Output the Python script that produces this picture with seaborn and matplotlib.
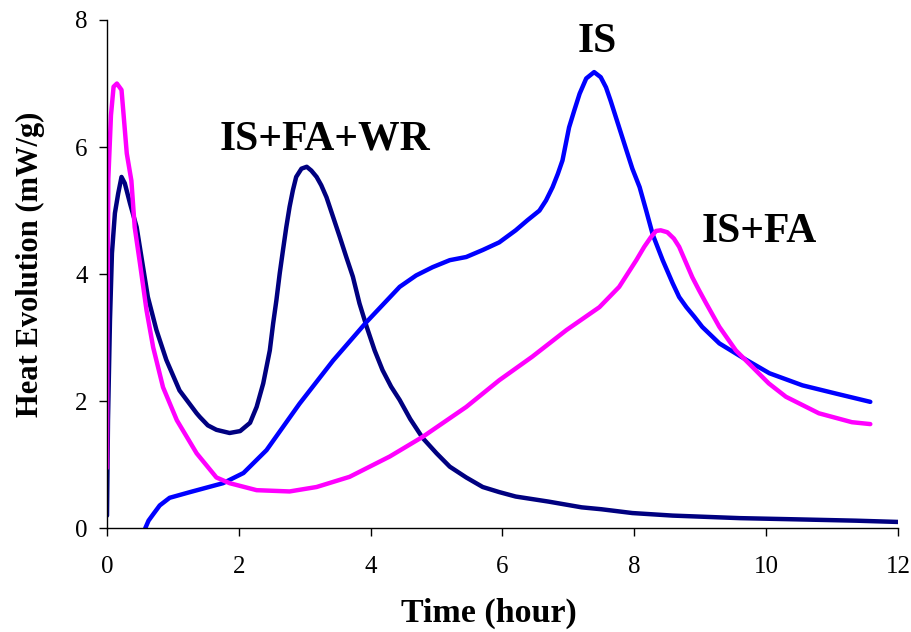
import pandas as pd
import matplotlib
matplotlib.use("Agg")
import matplotlib.pyplot as plt
import seaborn as sns

# Heat evolution curves (time in hours, heat flow in mW/g)
is_fa_wr_t = [0, 0.015, 0.045, 0.075, 0.12, 0.17, 0.22, 0.27, 0.35, 0.45, 0.53, 0.62,
              0.75, 0.9, 1.1, 1.36, 1.41, 1.53, 1.66, 1.86, 2.02, 2.17, 2.27, 2.37,
              2.42, 2.47, 2.52, 2.57, 2.62, 2.67, 2.72, 2.77, 2.82, 2.87, 2.95, 3.03,
              3.1, 3.18, 3.25, 3.33, 3.43, 3.53, 3.63, 3.73, 3.83, 3.94, 4.06, 4.18,
              4.31, 4.44, 4.6, 4.79, 5.0, 5.2, 5.45, 5.7, 5.95, 6.2, 6.7, 7.2, 7.5,
              7.97, 8.58, 9.6, 10.5, 11.36, 12.0]
is_fa_wr_y = [0.2, 1.7, 3.27, 4.33, 4.96, 5.27, 5.53, 5.43, 5.11, 4.74, 4.22, 3.64,
              3.12, 2.65, 2.17, 1.81, 1.75, 1.62, 1.55, 1.5, 1.53, 1.66, 1.91, 2.28,
              2.54, 2.8, 3.22, 3.59, 4.01, 4.38, 4.74, 5.06, 5.32, 5.53, 5.66, 5.69,
              5.63, 5.53, 5.4, 5.21, 4.9, 4.59, 4.27, 3.96, 3.54, 3.17, 2.8, 2.49,
              2.23, 2.02, 1.72, 1.42, 1.18, 0.97, 0.8, 0.65, 0.57, 0.5, 0.42, 0.33,
              0.3, 0.24, 0.2, 0.16, 0.14, 0.12, 0.1]

is_t = [0.58, 0.63, 0.7, 0.8, 0.95, 1.26, 1.76, 2.07, 2.42, 2.92, 3.43, 3.94, 4.44,
        4.69, 4.94, 5.2, 5.45, 5.7, 5.95, 6.2, 6.38, 6.56, 6.66, 6.76, 6.84, 6.91,
        6.96, 7.01, 7.09, 7.17, 7.27, 7.39, 7.49, 7.57, 7.64, 7.72, 7.8, 7.88,
        7.97, 8.08, 8.18, 8.28, 8.43, 8.58, 8.68, 8.79, 8.91, 9.03, 9.29, 9.7,
        10.05, 10.55, 11.06, 11.58]
is_y = [0.0, 0.12, 0.22, 0.36, 0.48, 0.57, 0.71, 0.87, 1.23, 1.96, 2.64, 3.25, 3.8,
        3.98, 4.11, 4.22, 4.27, 4.38, 4.5, 4.69, 4.85, 5.0, 5.16, 5.37, 5.58, 5.79,
        6.05, 6.31, 6.58, 6.84, 7.08, 7.18, 7.1, 6.94, 6.73, 6.47, 6.21, 5.95,
        5.66, 5.37, 5.0, 4.62, 4.22, 3.86, 3.64, 3.48, 3.33, 3.17, 2.91, 2.65,
        2.44, 2.25, 2.12, 1.99]

is_fa_t = [0, 0.005, 0.02, 0.06, 0.1, 0.15, 0.22, 0.25, 0.3, 0.37, 0.42, 0.5, 0.6,
           0.7, 0.85, 1.06, 1.36, 1.66, 1.86, 2.27, 2.77, 3.18, 3.68, 4.29, 4.79,
           5.45, 5.95, 6.45, 6.97, 7.47, 7.77, 8.03, 8.15, 8.25, 8.33, 8.4, 8.5,
           8.6, 8.68, 8.78, 8.88, 8.98, 9.09, 9.29, 9.54, 9.79, 10.04, 10.3, 10.8,
           11.3, 11.58]
is_fa_y = [0.95, 3.0, 5.5, 6.5, 6.95, 7.0, 6.9, 6.53, 5.9, 5.47, 4.74, 4.17, 3.43,
           2.85, 2.22, 1.7, 1.18, 0.8, 0.71, 0.6, 0.58, 0.65, 0.81, 1.13, 1.44,
           1.91, 2.33, 2.7, 3.12, 3.48, 3.8, 4.22, 4.43, 4.58, 4.68, 4.69, 4.66,
           4.56, 4.43, 4.19, 3.95, 3.75, 3.54, 3.17, 2.8, 2.54, 2.28, 2.07, 1.81,
           1.67, 1.64]

series_names = ["IS+FA+WR", "IS", "IS+FA"]
series_colors = ["#000080", "#0000FF", "#FF00FF"]
x_ticks = [0, 2, 4, 6, 8, 10, 12]
y_ticks = [0, 2, 4, 6, 8]

frames = []
for name, t, y in zip(series_names,
                      [is_fa_wr_t, is_t, is_fa_t],
                      [is_fa_wr_y, is_y, is_fa_y]):
    frames.append(pd.DataFrame({"time": t, "heat": y, "mix": name}))
df = pd.concat(frames, ignore_index=True)

sns.set_style("ticks")
plt.rcParams["font.family"] = ["Liberation Serif", "DejaVu Serif"]
plt.rcParams["text.color"] = "black"
plt.rcParams["axes.labelcolor"] = "black"
plt.rcParams["xtick.color"] = "black"
plt.rcParams["ytick.color"] = "black"

fig = plt.figure(figsize=(9.12, 6.32), dpi=100)
ax = fig.add_axes([107 / 912, 1 - 528.3 / 632, 791 / 912, 508.3 / 632])

for name, color in zip(series_names, series_colors):
    sub = df[df["mix"] == name]
    sns.lineplot(data=sub, x="time", y="heat", color=color,
                 estimator=None, sort=False, linewidth=3.2, ax=ax,
                 solid_joinstyle="round", solid_capstyle="round")

ax.set_xlim(0, 12)
ax.set_ylim(0, 8)
ax.set_xticks(x_ticks)
ax.set_yticks(y_ticks)
ax.tick_params(axis="both", direction="out", length=6, width=1,
               labelsize=18, colors="black")
ax.tick_params(axis="x", pad=14)
ax.tick_params(axis="y", pad=8)

for side in ["top", "right"]:
    ax.spines[side].set_visible(False)
for side in ["left", "bottom"]:
    ax.spines[side].set_linewidth(1)
    ax.spines[side].set_color("black")

ax.set_xlabel("Time (hour)", fontsize=24.5, fontweight="bold")
ax.set_ylabel("Heat Evolution (mW/g)", fontsize=22, fontweight="bold")
ax.xaxis.set_label_coords(0.483, -0.136)
ax.yaxis.set_label_coords(-0.078, 0.52)

ax.text(3.30, 5.96, "IS+FA+WR", fontsize=30, fontweight="bold",
        ha="center", va="baseline")
ax.text(7.43, 7.49, "IS", fontsize=30, fontweight="bold",
        ha="center", va="baseline", clip_on=False)
ax.text(9.89, 4.51, "IS+FA", fontsize=30, fontweight="bold",
        ha="center", va="baseline")

fig.savefig("out.png", dpi=100)
